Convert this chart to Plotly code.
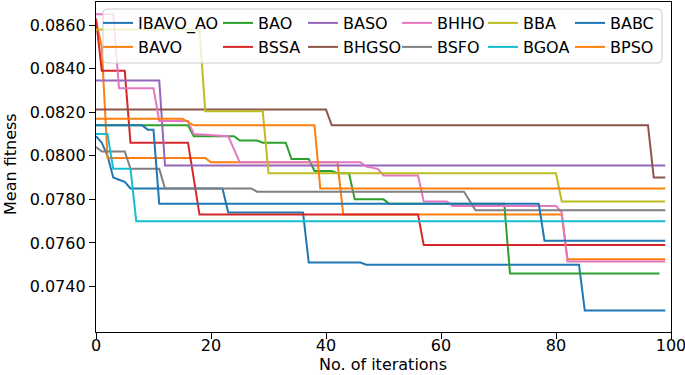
import plotly.graph_objects as go

names = ["IBAVO_AO", "BAVO", "BAO", "BSSA", "BASO", "BHGSO",
         "BHHO", "BSFO", "BBA", "BGOA", "BABC", "BPSO"]
colors = ["#1f77b4", "#ff7f0e", "#2ca02c", "#d62728", "#9467bd", "#8c564b",
          "#e377c2", "#7f7f7f", "#bcbd22", "#17becf", "#1f77b4", "#ff7f0e"]

# breakpoints (iteration, mean fitness) of each convergence curve
ibavo_x = [0, 1, 2, 3, 4, 5, 6, 22, 23, 36, 37, 46, 47, 84, 85, 99]
ibavo_y = [0.0809, 0.0806, 0.0800, 0.0790, 0.0789, 0.0788, 0.0785, 0.0785, 0.0774,
           0.0774, 0.0751, 0.0751, 0.0750, 0.0750, 0.0729, 0.0729]
bavo_x = [0, 1, 2, 19, 20, 42, 43, 81, 82, 99]
bavo_y = [0.0862, 0.0850, 0.0799, 0.0799, 0.0797, 0.0797, 0.0773, 0.0773, 0.07525, 0.07525]
bao_x = [0, 16, 17, 24, 25, 28, 29, 33, 34, 37, 38, 41, 42, 44, 45, 50, 51, 71, 72, 98]
bao_y = [0.0814, 0.0814, 0.0809, 0.0809, 0.0807, 0.0807, 0.0806, 0.0806, 0.07985, 0.07985,
         0.0793, 0.0793, 0.0792, 0.0792, 0.0780, 0.0780, 0.0778, 0.0778, 0.0746, 0.0746]
bssa_x = [0, 1, 5, 6, 16, 18, 56, 57, 99]
bssa_y = [0.0863, 0.0839, 0.0839, 0.0806, 0.0806, 0.0773, 0.0773, 0.0759, 0.0759]
baso_x = [0, 11, 12, 99]
baso_y = [0.08346, 0.08346, 0.07955, 0.07955]
bhgso_x = [0, 40, 41, 96, 97, 99]
bhgso_y = [0.08212, 0.08212, 0.0814, 0.0814, 0.0790, 0.0790]
bhho_x = [0, 3, 4, 10, 11, 16, 17, 23, 25, 46, 47, 49, 50, 56, 57, 61, 62, 80, 81, 82, 99]
bhho_y = [0.0865, 0.0865, 0.0831, 0.0831, 0.0816, 0.0816, 0.0810, 0.0809, 0.0797, 0.0797,
          0.0795, 0.0794, 0.0791, 0.0791, 0.0779, 0.0779, 0.0777, 0.0777, 0.0774, 0.07515, 0.07515]
bsfo_x = [0, 1, 5, 6, 11, 12, 27, 28, 64, 66, 99]
bsfo_y = [0.0804, 0.0802, 0.0802, 0.0794, 0.0794, 0.0785, 0.0785, 0.07835, 0.07835, 0.0775, 0.0775]
bba_x = [0, 18, 19, 29, 30, 80, 81, 99]
bba_y = [0.0858, 0.0858, 0.08205, 0.08205, 0.0792, 0.0792, 0.0779, 0.0779]
bgoa_x = [0, 2, 3, 6, 7, 99]
bgoa_y = [0.0810, 0.0810, 0.0794, 0.0794, 0.0770, 0.0770]
babc_x = [0, 8, 9, 10, 11, 77, 78, 99]
babc_y = [0.0814, 0.0814, 0.0812, 0.0812, 0.0778, 0.0778, 0.0761, 0.0761]
bpso_x = [0, 15, 17, 38, 39, 99]
bpso_y = [0.0817, 0.0817, 0.0814, 0.0814, 0.0785, 0.0785]

series_x = [ibavo_x, bavo_x, bao_x, bssa_x, baso_x, bhgso_x,
            bhho_x, bsfo_x, bba_x, bgoa_x, babc_x, bpso_x]
series_y = [ibavo_y, bavo_y, bao_y, bssa_y, baso_y, bhgso_y,
            bhho_y, bsfo_y, bba_y, bgoa_y, babc_y, bpso_y]

x_ticks = [0, 20, 40, 60, 80, 100]
y_ticks = [0.0740, 0.0760, 0.0780, 0.0800, 0.0820, 0.0840, 0.0860]
x_title = "No. of iterations"
y_title = "Mean fitness"

FONT = "DejaVu Sans"
W, H = 685, 375
ML, MR, MT, MB = 96, 14, 2, 43
PW, PH = W - ML - MR, H - MT - MB

def px2paper_x(px):
    return (px - ML) / PW

def py2paper_y(py):
    return (H - MB - py) / PH

fig = go.Figure()
legend_ids = ["legend"] + [f"legend{k}" for k in range(2, 13)]
for k, (nm, c, xs, ys) in enumerate(zip(names, colors, series_x, series_y)):
    fig.add_trace(go.Scatter(x=xs, y=ys, mode="lines", name=nm,
                             line=dict(color=c, width=2),
                             legend=legend_ids[k]))

# legend entries laid out column-major, like the original (2 rows x 6 columns)
text_px = [138, 258, 343, 437, 523, 610]
row_py = [23, 47]
layout_legends = {}
for k, lid in enumerate(legend_ids):
    col, row = k // 2, k % 2
    layout_legends[lid] = dict(
        x=px2paper_x(text_px[col] - 40), y=py2paper_y(row_py[row]),
        xanchor="left", yanchor="middle", orientation="v",
        bgcolor="rgba(0,0,0,0)", borderwidth=0, itemwidth=30,
        font=dict(family=FONT, size=16, color="black"))

# legend frame
x0, x1 = px2paper_x(103), px2paper_x(662)
y0, y1 = py2paper_y(63), py2paper_y(9)
rx, ry = 4 / PW, 4 / PH
path = (f"M{x0+rx},{y1} L{x1-rx},{y1} Q{x1},{y1} {x1},{y1-ry} L{x1},{y0+ry} "
        f"Q{x1},{y0} {x1-rx},{y0} L{x0+rx},{y0} Q{x0},{y0} {x0},{y0+ry} "
        f"L{x0},{y1-ry} Q{x0},{y1} {x0+rx},{y1} Z")
fig.add_shape(type="path", path=path, xref="paper", yref="paper",
              fillcolor="rgba(255,255,255,0.8)", line=dict(color="#cccccc", width=1),
              layer="above")

# axis titles
fig.add_annotation(text=x_title, xref="paper", yref="paper",
                   x=px2paper_x(383), y=py2paper_y(364), xanchor="center", yanchor="middle",
                   showarrow=False, font=dict(family=FONT, size=16, color="black"))
fig.add_annotation(text=y_title, xref="paper", yref="paper", textangle=-90,
                   x=px2paper_x(10), y=py2paper_y(164), xanchor="center", yanchor="middle",
                   showarrow=False, font=dict(family=FONT, size=16, color="black"))

fig.update_layout(
    width=W, height=H,
    margin=dict(l=ML, r=MR, t=MT, b=MB, autoexpand=False),
    paper_bgcolor="white", plot_bgcolor="white",
    font=dict(family=FONT, size=16, color="black"),
    showlegend=True,
    **layout_legends,
)
fig.update_xaxes(range=[0, 100], tickvals=x_ticks, ticks="outside", ticklen=6,
                 tickwidth=1.2, tickcolor="black", showline=True, linecolor="black",
                 linewidth=1.3, mirror=True, showgrid=False, zeroline=False,
                 automargin=False, ticklabelstandoff=-7, ticklabeloverflow="allow",
                 tickfont=dict(size=16))
fig.update_yaxes(range=[0.07191, 0.08706], tickvals=y_ticks, tickformat=".4f",
                 ticks="outside", ticklen=6, tickwidth=1.2, tickcolor="black",
                 showline=True, linecolor="black", linewidth=1.3, mirror=True,
                 showgrid=False, zeroline=False, automargin=False,
                 ticklabeloverflow="allow", tickfont=dict(size=16))

fig.write_html("out.html", config={"displayModeBar": False},
               post_script="document.body.style.margin='0';")
